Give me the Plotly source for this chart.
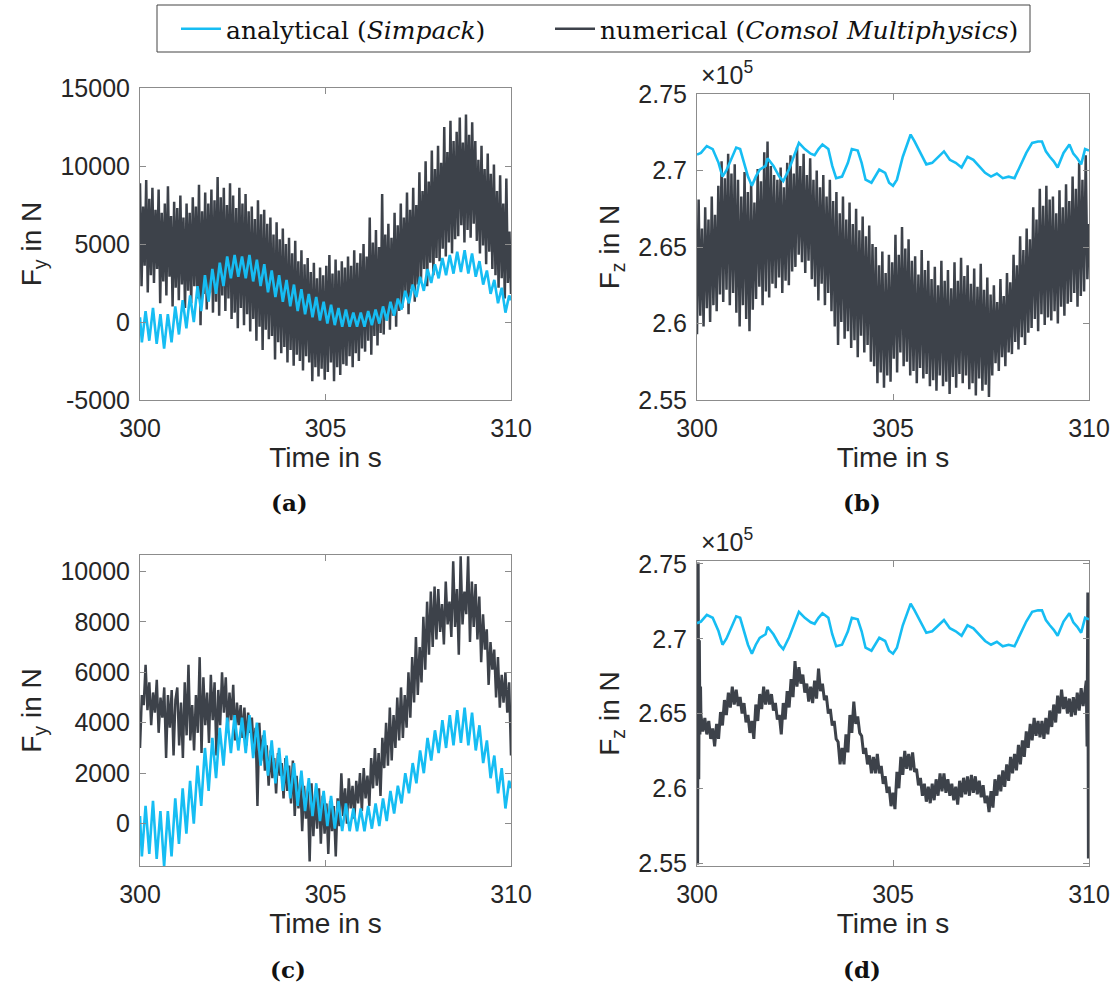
import numpy as np
import plotly.graph_objects as go

# ---------------- DATA ----------------
# Analytical lateral force F_y (Simpack) - same signal in (a) and (c)
ana_fy_start = 300
ana_fy_troughs = [-1300, -1200, -1400, -1700, -1300, -800, -400, 0, 700, 1300,
                  1800, 2300, 2800, 2900, 2800, 2600, 2300, 1900, 1600, 1300,
                  1000, 700, 500, 300, 100, -100, -200, -300, -300, -300,
                  -300, -200, -100, 100, 400, 800, 1200, 1600, 2000, 2500,
                  2800, 3000, 3100, 3200, 3100, 2900, 2400, 1800, 1200, 600]
ana_fy_peaks = [700, 900, 500, 500, 1000, 1400, 1700, 2300, 3000, 3400,
                3800, 4200, 4300, 4200, 4300, 4000, 3700, 3300, 3000, 2700,
                2400, 2100, 1800, 1600, 1300, 1100, 900, 800, 600, 600,
                700, 800, 1000, 1300, 1500, 2000, 2400, 2900, 3400, 3700,
                4100, 4300, 4500, 4600, 4400, 3900, 3300, 2700, 2200, 1700]
ana_fy_end = 1400

# Numerical F_y (a): dense signal, upper spikes and lower spikes
num_fy_a_tops = [8900, 7400, 9100, 7900, 8600, 7200, 8500, 7000, 7600, 8700, 6800, 7700,
                 7300, 8100, 6700, 7600, 7000, 8000, 7400, 8800, 7100, 8300, 7600, 8500,
                 7800, 9300, 8000, 8600, 7500, 8900, 8100, 7300, 8600, 7600, 8200, 7100,
                 7400, 6600, 7800, 6900, 7200, 6300, 6700, 5600, 6400, 5300, 6000, 5000,
                 5400, 4400, 5200, 3900, 4600, 3700, 4100, 3200, 3800, 2800, 3500, 3000,
                 3600, 4300, 3100, 4000, 3300, 3900, 3500, 4200, 3600, 4600, 3800, 4400,
                 5000, 4200, 6700, 5100, 5900, 4800, 8200, 5600, 6300, 5400, 7000, 6200,
                 7600, 6700, 8300, 7200, 8600, 7500, 9600, 8400, 10300, 9000, 11000, 9800,
                 11300, 10200, 12500, 10900, 12900, 11600, 12200, 13100, 11500, 13300, 12000, 12800,
                 11600, 10400, 11300, 9800, 10800, 9500, 10100, 8400, 9400, 7600, 9200, 5800]
num_fy_a_bottoms = [2300, 3600, 1900, 3000, 2500, 3400, 1200, 2600, 1700, 2900, 1000, 2200,
                    1400, 2400, 900, 2000, 1200, 2300, 1500, -200, 1800, 800, 1900, 600,
                    1300, 400, 1700, 700, 1500, 200, 600, -400, 900, -200, 500, -600,
                    200, -1200, -300, -1800, -500, -1100, -900, -2400, -1300, -2000, -1600, -2600,
                    -1800, -2800, -2100, -2500, -3100, -2200, -2600, -3800, -2900, -3500, -3000, -3700,
                    -3200, -2600, -3800, -2900, -3400, -2700, -2800, -2200, -2900, -2000, -2500, -1700,
                    -1900, -1200, -2100, -900, -1500, -700, -800, 100, -500, 400, -300, 700,
                    900, 1800, 500, 2100, 1300, 2400, 2600, 3400, 2300, 3800, 3000, 4100,
                    3900, 4700, 4200, 5100, 4400, 5300, 5500, 6200, 5100, 5900, 5400, 6300,
                    5200, 4400, 4900, 3700, 4500, 3400, 3000, 2200, 2800, 1500, 2500, 1800]

# Numerical F_z (b), in units of 1e5 N: upper and lower spikes
num_fz_b_tops = [2.681, 2.662, 2.676, 2.668, 2.683, 2.671, 2.690, 2.706, 2.695, 2.711, 2.698, 2.704,
                 2.694, 2.683, 2.699, 2.686, 2.692, 2.679, 2.701, 2.693, 2.712, 2.719, 2.703, 2.697,
                 2.694, 2.702, 2.689, 2.705, 2.710, 2.698, 2.715, 2.703, 2.711, 2.697, 2.708, 2.694,
                 2.700, 2.689, 2.697, 2.683, 2.694, 2.680, 2.686, 2.672, 2.683, 2.668, 2.679, 2.665,
                 2.675, 2.661, 2.670, 2.657, 2.664, 2.652, 2.650, 2.638, 2.647, 2.633, 2.645, 2.640,
                 2.658, 2.645, 2.663, 2.649, 2.655, 2.641, 2.644, 2.632, 2.648, 2.635, 2.641, 2.629,
                 2.637, 2.625, 2.641, 2.628, 2.635, 2.623, 2.640, 2.628, 2.643, 2.631, 2.638, 2.626,
                 2.636, 2.624, 2.639, 2.622, 2.630, 2.619, 2.625, 2.614, 2.629, 2.618, 2.633, 2.627,
                 2.645, 2.638, 2.657, 2.648, 2.662, 2.655, 2.676, 2.668, 2.688, 2.677, 2.690, 2.681,
                 2.683, 2.672, 2.687, 2.676, 2.691, 2.680, 2.696, 2.688, 2.705, 2.694, 2.710, 2.665]
num_fz_b_bottoms = [2.593, 2.605, 2.598, 2.610, 2.601, 2.612, 2.608, 2.619, 2.614, 2.622, 2.612, 2.620,
                    2.607, 2.598, 2.612, 2.603, 2.595, 2.609, 2.616, 2.624, 2.612, 2.621, 2.617, 2.626,
                    2.623, 2.630, 2.620, 2.628, 2.625, 2.634, 2.637, 2.645, 2.640, 2.633, 2.641, 2.629,
                    2.624, 2.615, 2.626, 2.612, 2.620, 2.608, 2.598, 2.586, 2.601, 2.590, 2.595, 2.584,
                    2.589, 2.578, 2.592, 2.581, 2.586, 2.575, 2.572, 2.561, 2.568, 2.558, 2.566, 2.562,
                    2.577, 2.568, 2.581, 2.572, 2.575, 2.566, 2.569, 2.561, 2.571, 2.564, 2.567, 2.559,
                    2.563, 2.556, 2.566, 2.559, 2.562, 2.554, 2.565, 2.558, 2.567, 2.561, 2.566, 2.557,
                    2.561, 2.553, 2.564, 2.556, 2.560, 2.552, 2.566, 2.574, 2.569, 2.578, 2.572, 2.581,
                    2.580, 2.588, 2.583, 2.591, 2.586, 2.594, 2.597, 2.603, 2.595, 2.606, 2.599, 2.604,
                    2.602, 2.608, 2.600, 2.611, 2.605, 2.613, 2.614, 2.620, 2.611, 2.618, 2.621, 2.629]

# Numerical F_y (c)
num_fy_c = [3000, 5100, 4700, 6300, 4500, 5600, 3900, 5200, 4400, 5700, 3600, 5000, 4200, 5400, 2600, 5100, 3800, 5300, 2700, 4900,
            5400, 3100, 4800, 2600, 5600, 3500, 6300, 3300, 4700, 2900, 5100, 3600, 6600, 2800, 5800, 3900, 5200, 3200, 5900, 4100,
            5600, 2700, 5300, 3900, 6000, 4400, 5800, 3600, 5200, 4100, 5500, 3300, 4800, 3900, 4700, 3400, 4600, 3100, 4400, 3600,
            4200, 2900, 3800, 700, 4000, 2500, 3500, 2100, 3100, 1500, 2900, 1800, 2600, 1200, 2800, 1900, 2400, 1000, 2600, 1300,
            2300, 800, 2500, 300, 1900, 600, 1700, -300, 1500, 200, 1300, -1500, 1600, -500, 1200, -200, 1400, -800, 1100, -400,
            800, -1200, 900, -300, 700, -1300, 1000, -100, 2000, 300, 1400, 0, 1800, 600, 1500, 200, 1700, 800, 2000, 500,
            2200, 1000, 1900, 700, 2600, 1400, 3000, 1500, 2800, 1100, 3400, 2200, 4000, 2300, 4600, 2500, 4300, 3000, 5000, 3300,
            5400, 3400, 5100, 3800, 6000, 4200, 6600, 4800, 7400, 5100, 7000, 5600, 8200, 6100, 8800, 6700, 9200, 7000, 9400, 7300,
            9300, 7600, 8700, 7100, 9600, 7900, 8800, 7400, 10400, 7800, 9300, 6700, 10600, 7900, 9200, 8300, 10600, 7200, 9600, 7800,
            9500, 7300, 9000, 6400, 8300, 6900, 7700, 5500, 7200, 6100, 6900, 5000, 6600, 4600, 5900, 4800, 6000, 4400, 5600, 2700]

# Numerical F_z (d), 1e5 N: start transient, fuzzy body (upper / lower wiggles), end transient
num_fz_d_start_t = [300.0, 300.015, 300.03, 300.045, 300.06, 300.075, 300.09]
num_fz_d_start = [2.710, 2.549, 2.751, 2.606, 2.699, 2.636, 2.668]
num_fz_d_tops = [2.649, 2.647, 2.645, 2.640, 2.643, 2.651, 2.659, 2.664, 2.668, 2.666,
                 2.661, 2.657, 2.649, 2.645, 2.656, 2.663, 2.668, 2.666, 2.663, 2.657,
                 2.649, 2.657, 2.665, 2.673, 2.685, 2.681, 2.676, 2.670, 2.668, 2.672,
                 2.680, 2.670, 2.662, 2.653, 2.645, 2.631, 2.627, 2.636, 2.649, 2.658,
                 2.648, 2.635, 2.627, 2.622, 2.621, 2.623, 2.615, 2.608, 2.601, 2.597,
                 2.611, 2.621, 2.625, 2.623, 2.624, 2.613, 2.607, 2.603, 2.601, 2.603,
                 2.606, 2.610, 2.610, 2.606, 2.603, 2.601, 2.605, 2.607, 2.608, 2.609,
                 2.608, 2.605, 2.602, 2.595, 2.598, 2.606, 2.609, 2.612, 2.616, 2.621,
                 2.623, 2.629, 2.632, 2.638, 2.643, 2.647, 2.645, 2.645, 2.647, 2.652,
                 2.656, 2.662, 2.666, 2.661, 2.660, 2.661, 2.664, 2.667]
num_fz_d_bottoms = [2.638, 2.636, 2.633, 2.628, 2.633, 2.642, 2.649, 2.654, 2.656, 2.655,
                    2.650, 2.644, 2.637, 2.633, 2.645, 2.653, 2.656, 2.656, 2.652, 2.646,
                    2.636, 2.646, 2.654, 2.661, 2.668, 2.670, 2.664, 2.658, 2.657, 2.660,
                    2.665, 2.659, 2.650, 2.642, 2.633, 2.616, 2.616, 2.624, 2.637, 2.643,
                    2.637, 2.623, 2.616, 2.610, 2.610, 2.610, 2.603, 2.597, 2.588, 2.586,
                    2.600, 2.609, 2.613, 2.612, 2.611, 2.602, 2.595, 2.591, 2.590, 2.592,
                    2.595, 2.598, 2.597, 2.595, 2.592, 2.589, 2.594, 2.596, 2.595, 2.597,
                    2.596, 2.594, 2.590, 2.584, 2.587, 2.595, 2.598, 2.601, 2.605, 2.610,
                    2.612, 2.616, 2.621, 2.627, 2.632, 2.635, 2.634, 2.633, 2.636, 2.641,
                    2.644, 2.650, 2.653, 2.650, 2.648, 2.649, 2.652, 2.655]
num_fz_d_end_t = [309.90, 309.93, 309.95, 309.97, 309.985, 310.0]
num_fz_d_end = [2.664, 2.672, 2.628, 2.731, 2.553, 2.652]

# Analytical F_z (Simpack), 1e5 N - same signal in (b) and (d)
ana_fz_t = [300.0, 300.1, 300.25, 300.4, 300.55, 300.65, 300.75, 300.9,
            301.0, 301.1, 301.2, 301.3, 301.4, 301.5, 301.6, 301.75, 301.8, 301.95,
            302.1, 302.2, 302.35, 302.5, 302.6, 302.75, 302.9,
            303.0, 303.1, 303.2, 303.35, 303.45, 303.55, 303.7, 303.85, 303.95,
            304.1, 304.2, 304.3, 304.45, 304.55, 304.65, 304.8, 304.9,
            305.0, 305.1, 305.25, 305.4, 305.45, 305.55, 305.7, 305.85,
            306.0, 306.15, 306.3, 306.45, 306.6, 306.75, 306.9,
            307.05, 307.2, 307.35, 307.5, 307.65, 307.8, 307.95,
            308.1, 308.25, 308.4, 308.55, 308.7, 308.8, 308.9,
            309.0, 309.1, 309.2, 309.35, 309.5, 309.6, 309.7, 309.8, 309.9, 310.0]
ana_fz = [2.7104, 2.7115, 2.716, 2.714, 2.705, 2.696, 2.700, 2.709,
          2.715, 2.714, 2.705, 2.696, 2.690, 2.696, 2.7006, 2.703, 2.708, 2.703,
          2.696, 2.693, 2.701, 2.711, 2.718, 2.714, 2.711,
          2.710, 2.714, 2.717, 2.714, 2.703, 2.695, 2.696, 2.705, 2.714,
          2.713, 2.705, 2.694, 2.692, 2.696, 2.7006, 2.6985, 2.692,
          2.690, 2.694, 2.709, 2.720, 2.7235, 2.719, 2.711, 2.704,
          2.705, 2.709, 2.7125, 2.707, 2.705, 2.702, 2.709,
          2.707, 2.703, 2.6985, 2.696, 2.698, 2.695, 2.696,
          2.695, 2.703, 2.7115, 2.718, 2.719, 2.719, 2.7125,
          2.709, 2.706, 2.702, 2.7115, 2.717, 2.711, 2.708, 2.704, 2.714, 2.713]

x_ticks = [300, 305, 310]
fy_a_ticks = [-5000, 0, 5000, 10000, 15000]
fy_c_ticks = [0, 2000, 4000, 6000, 8000, 10000]
fz_ticks = [2.55, 2.6, 2.65, 2.7, 2.75]

# ---------------- series assembly ----------------
def interleave(a, b):
    out = []
    for p, q in zip(a, b):
        out += [p, q]
    return out

ana_fy_t = [300.0] + list(300.05 + 0.1 * np.arange(2 * len(ana_fy_troughs))) + [310.0]
ana_fy = [ana_fy_start] + interleave(ana_fy_troughs, ana_fy_peaks) + [ana_fy_end]

num_a = interleave(num_fy_a_tops, num_fy_a_bottoms)
num_a_t = np.linspace(300, 310, len(num_a))
num_b = interleave(num_fz_b_bottoms, num_fz_b_tops)
num_b_t = np.linspace(300, 310, len(num_b))
num_c_t = np.linspace(300, 310, len(num_fy_c))
d_body = interleave(num_fz_d_tops, num_fz_d_bottoms)
num_d_t = num_fz_d_start_t + list(300.10 + 0.05 * np.arange(len(d_body))) + num_fz_d_end_t
num_d = num_fz_d_start + d_body + num_fz_d_end

CYAN = "#16BDF3"
DARK = "#3D424A"
W, H = 1115, 985

fig = go.Figure()

NAME_A = "analytical (<i>Simpack</i>)"
NAME_N = "numerical (<i>Comsol Multiphysics</i>)"

def add(x, y, color, width, k, show):
    sfx = "" if k == 1 else str(k)
    is_ana = color == CYAN
    fig.add_trace(go.Scatter(x=x, y=y, mode="lines", line=dict(color=color, width=width),
                             name=NAME_A if is_ana else NAME_N, showlegend=show,
                             legend="legend" if is_ana else "legend2",
                             xaxis="x" + sfx, yaxis="y" + sfx, hoverinfo="skip"))

add(num_a_t, num_a, DARK, 2.5, 1, True)
add(ana_fy_t, ana_fy, CYAN, 2.6, 1, True)
add(num_b_t, num_b, DARK, 2.5, 2, False)
add(ana_fz_t, ana_fz, CYAN, 2.6, 2, False)
add(num_c_t, num_fy_c, DARK, 2.5, 3, False)
add(ana_fy_t, ana_fy, CYAN, 2.6, 3, False)
add(num_d_t, num_d, DARK, 3.0, 4, False)
add(ana_fz_t, ana_fz, CYAN, 2.6, 4, False)

def px_x(a, b):
    return [a / W, b / W]

def px_y(top, bot):
    return [1 - bot / H, 1 - top / H]

AXC = "#8c8c8c"
TXC = "#262626"
tickfont = dict(family="Liberation Sans, Arial, sans-serif", size=25, color=TXC)
titlefont = dict(family="Liberation Sans, Arial, sans-serif", size=28, color=TXC)
legfont = dict(family="DejaVu Serif, serif", size=25, color="#111111")

def xax(dom, anchor):
    return dict(domain=dom, anchor=anchor, range=[300, 310], tickvals=x_ticks,
                ticktext=[str(v) for v in x_ticks], showline=True, linecolor=AXC, linewidth=1,
                mirror="allticks", ticks="inside", ticklen=6, tickcolor=AXC, showgrid=False,
                zeroline=False, tickfont=tickfont, ticklabelstandoff=6, automargin=False,
                title=dict(text="Time in s", font=titlefont, standoff=6))

def yax(dom, anchor, rng, tv, tt, title):
    return dict(domain=dom, anchor=anchor, range=rng, tickvals=tv, ticktext=tt,
                showline=True, linecolor=AXC, linewidth=1, mirror="allticks", ticks="inside",
                ticklen=6, tickcolor=AXC, showgrid=False, zeroline=False, tickfont=tickfont,
                ticklabelstandoff=4, automargin=False,
                title=dict(text=title, font=titlefont, standoff=10))

FY = "F<sub>y</sub> in N"
FZ = "F<sub>z</sub> in N"

fig.update_layout(
    width=W, height=H, margin=dict(l=0, r=0, t=0, b=0),
    paper_bgcolor="white", plot_bgcolor="white",
    xaxis=xax(px_x(140, 511), "y"),
    yaxis=yax(px_y(88, 400), "x", [-5000, 15000], fy_a_ticks, [str(v) for v in fy_a_ticks], FY),
    xaxis2=xax(px_x(697, 1089), "y2"),
    yaxis2=yax(px_y(94, 400), "x2", [2.55, 2.75], fz_ticks, [f"{v:g}" for v in fz_ticks], FZ),
    xaxis3=xax(px_x(140, 511), "y3"),
    yaxis3=yax(px_y(555, 866), "x3", [-1680, 10650], fy_c_ticks, [str(v) for v in fy_c_ticks], FY),
    xaxis4=xax(px_x(697, 1089), "y4"),
    yaxis4=yax(px_y(561, 866), "x4", [2.548, 2.752], fz_ticks, [f"{v:g}" for v in fz_ticks], FZ),
    legend=dict(orientation="h", x=176 / W, y=1 - 29 / H, xanchor="left", yanchor="middle",
                bgcolor="rgba(0,0,0,0)", borderwidth=0, itemwidth=40, font=legfont),
    legend2=dict(orientation="h", x=550 / W, y=1 - 29 / H, xanchor="left", yanchor="middle",
                 bgcolor="rgba(0,0,0,0)", borderwidth=0, itemwidth=40, font=legfont),
    shapes=[dict(type="rect", xref="paper", yref="paper", x0=157 / W, x1=1030 / W,
                 y0=1 - 52 / H, y1=1 - 5 / H, line=dict(color="#444444", width=1))],
)

ann = []
for (x, y, t) in [(290, 503, "(a)"), (862, 503, "(b)"), (288, 969, "(c)"), (862, 969, "(d)")]:
    ann.append(dict(x=x / W, y=1 - y / H, xref="paper", yref="paper", text="<b>" + t + "</b>",
                    showarrow=False, xanchor="center", yanchor="middle",
                    font=dict(family="DejaVu Serif, serif", size=23, color="#111111")))
for (x, y) in [(699, 91), (699, 558)]:
    ann.append(dict(x=x / W, y=1 - y / H, xref="paper", yref="paper", text="×10<sup>5</sup>",
                    showarrow=False, xanchor="left", yanchor="bottom", font=tickfont))
fig.update_layout(annotations=ann)

fig.write_html("out.html")
